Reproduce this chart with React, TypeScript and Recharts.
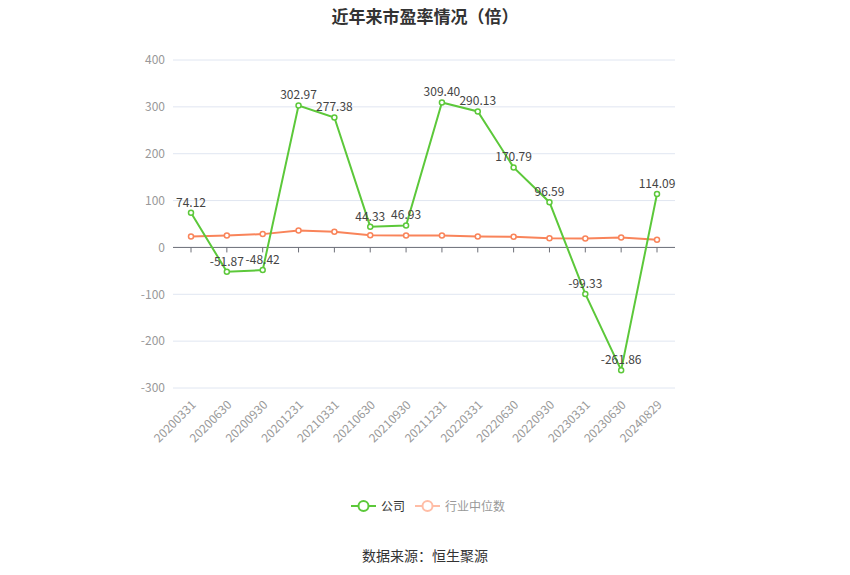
import { LineChart, Line, XAxis, YAxis, CartesianGrid, ReferenceLine, LabelList } from 'recharts';

const periods = [
  '20200331', '20200630', '20200930', '20201231', '20210331', '20210630', '20210930',
  '20211231', '20220331', '20220630', '20220930', '20230331', '20230630', '20240829',
];
const companyPE = [
  74.12, -51.87, -48.42, 302.97, 277.38, 44.33, 46.93,
  309.4, 290.13, 170.79, 96.59, -99.33, -261.86, 114.09,
];
const industryPE = [
  23.5, 25.6, 28.4, 36.3, 33.5, 26.2, 25.6,
  25.6, 23.5, 22.8, 19.8, 19.2, 21.3, 16.4,
];
const yTicks = [-300, -200, -100, 0, 100, 200, 300, 400];

const W = 850;
const H = 575;
const M = { top: 60, right: 175, bottom: 127, left: 133 };
const Y_MIN = -300;
const Y_MAX = 400;
const X_AXIS_H = 60;
const plotH = H - M.top - M.bottom - X_AXIS_H;
const zeroY = M.top + (plotH * Y_MAX) / (Y_MAX - Y_MIN);

const GREEN = '#5cc83a';
const ORANGE = '#f9845a';

const data = periods.map((p, i) => ({ period: p, company: companyPE[i], industry: industryPE[i] }));

function XTick(props: any) {
  const { x, y, payload } = props;
  return (
    <g>
      <line x1={x} x2={x} y1={zeroY} y2={zeroY + 5} stroke="#6e7079" strokeWidth={1} />
      <text
        x={x} y={y + 4} dy={8}
        textAnchor="end" fontSize={12} fill="#999"
        transform={`rotate(-45, ${x}, ${y + 4})`}
      >
        {payload.value}
      </text>
    </g>
  );
}

function LegendItem({ color, label, textColor }: { color: string; label: string; textColor: string }) {
  return (
    <div style={{ display: 'flex', alignItems: 'center', gap: 5 }}>
      <svg width={25} height={14}>
        <line x1={0} x2={25} y1={7} y2={7} stroke={color} strokeWidth={2} />
        <circle cx={12.5} cy={7} r={5} fill="#fff" stroke={color} strokeWidth={2} />
      </svg>
      <span style={{ fontSize: 12, color: textColor }}>{label}</span>
    </div>
  );
}

export default function App() {
  return (
    <div style={{
      position: 'absolute', left: 0, top: 0, width: W, height: H, background: '#fff',
      fontFamily: '"Microsoft YaHei", "Noto Sans CJK SC", sans-serif',
    }}>
      <div style={{
        position: 'absolute', top: 3, left: 0, width: W, textAlign: 'center',
        fontSize: 17, fontWeight: 'bold', color: '#333',
      }}>
        近年来市盈率情况（倍）
      </div>

      <LineChart width={W} height={H} data={data} margin={M} style={{ fontFamily: 'inherit' }}>
        <CartesianGrid vertical={false} stroke="#e0e6f1" />
        <XAxis
          dataKey="period" interval={0} height={X_AXIS_H} padding={{ left: 18, right: 18 }}
          axisLine={false} tickLine={false} tick={<XTick />}
        />
        <YAxis
          domain={[Y_MIN, Y_MAX]} ticks={yTicks} width={40}
          axisLine={false} tickLine={false} tickSize={0} tickMargin={8}
          tick={{ fontSize: 12, fill: '#999' }}
        />
        <ReferenceLine y={0} stroke="#6e7079" />
        <Line
          dataKey="industry" stroke={ORANGE} strokeWidth={2}
          dot={{ r: 2.5, fill: '#fff', stroke: ORANGE, strokeWidth: 1.5 }}
          isAnimationActive={false}
        />
        <Line
          dataKey="company" stroke={GREEN} strokeWidth={2}
          dot={{ r: 2.5, fill: '#fff', stroke: GREEN, strokeWidth: 1.5 }}
          isAnimationActive={false}
        >
          <LabelList
            dataKey="company" position="top" offset={6}
            fontSize={12} fill="#444"
            formatter={(v: any) => Number(v).toFixed(2)}
          />
        </Line>
      </LineChart>

      <div style={{
        position: 'absolute', top: 497, left: 0, width: W,
        display: 'flex', justifyContent: 'center', gap: 10, paddingLeft: 6, boxSizing: 'border-box',
      }}>
        <LegendItem color={GREEN} label="公司" textColor="#333" />
        <LegendItem color="#ffbda6" label="行业中位数" textColor="#999" />
      </div>

      <div style={{
        position: 'absolute', top: 545, left: 0, width: W, textAlign: 'center',
        fontSize: 14, color: '#333',
      }}>
        数据来源：恒生聚源
      </div>
    </div>
  );
}
